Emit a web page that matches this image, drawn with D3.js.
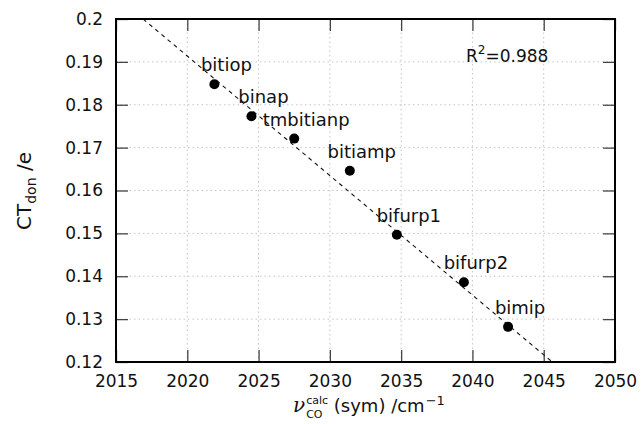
<!DOCTYPE html>
<html><head><meta charset="utf-8">
<script src="https://cdn.jsdelivr.net/npm/d3@7"></script>
<style>body{margin:0;background:#fff}svg{display:block;font-family:"DejaVu Sans",sans-serif}</style>
</head><body>
<svg id="c" width="643" height="424"></svg>
<script>
const names = ["bitiop","binap","tmbitianp","bitiamp","bifurp1","bifurp2","bimip"];
const wavenumbers = [2021.9, 2024.5, 2027.5, 2031.4, 2034.7, 2039.4, 2042.5];
const ctDon = [0.1848, 0.1773, 0.1721, 0.1646, 0.1497, 0.1386, 0.1282];
const fitX = [2016.9, 2045.6];
const fitY = [0.2, 0.12];
const xTicks = [2015,2020,2025,2030,2035,2040,2045,2050];
const yTicks = [0.12,0.13,0.14,0.15,0.16,0.17,0.18,0.19,0.2];
const r2Text = "0.988";

const svg = d3.select("#c");
const L=116, R=615, T=19, B=362;
const x = d3.scaleLinear().domain([2015,2050]).range([L,R]);
const y = d3.scaleLinear().domain([0.12,0.2]).range([B,T]);

// grid
const grid = svg.append("g").attr("stroke","#c4c4c4").attr("stroke-width",1).attr("stroke-dasharray","1.5,3");
grid.selectAll(".gx").data(xTicks.slice(1,-1)).join("line").attr("x1",d=>x(d)).attr("x2",d=>x(d)).attr("y1",T).attr("y2",B);
grid.selectAll(".gy").data(yTicks.slice(1,-1)).join("line").attr("y1",d=>y(d)).attr("y2",d=>y(d)).attr("x1",L).attr("x2",R);

// axes
const fmtY = d3.format(".2~f");
const tk = 12;
const axL = svg.append("g").attr("transform",`translate(${L},0)`).call(d3.axisLeft(y).tickValues(yTicks).tickFormat(fmtY).tickSizeInner(-tk).tickSizeOuter(0).tickPadding(13));
const axB = svg.append("g").attr("transform",`translate(0,${B})`).call(d3.axisBottom(x).tickValues(xTicks).tickFormat(d3.format("d")).tickSizeInner(-tk).tickSizeOuter(0).tickPadding(13));
const axR = svg.append("g").attr("transform",`translate(${R},0)`).call(d3.axisRight(y).tickValues(yTicks).tickFormat("").tickSizeInner(-tk).tickSizeOuter(0));
const axT = svg.append("g").attr("transform",`translate(0,${T})`).call(d3.axisTop(x).tickValues(xTicks).tickFormat("").tickSizeInner(-tk).tickSizeOuter(0));
[axL,axB,axR,axT].forEach(a=>{
  a.select(".domain").remove();
  a.selectAll(".tick line").attr("stroke","#444").attr("stroke-width",1.3);
  a.selectAll("text").attr("font-family","DejaVu Sans").attr("font-size",17).attr("fill","#111");
});

// fit line
svg.append("line").attr("x1",x(fitX[0])).attr("y1",y(fitY[0])).attr("x2",x(fitX[1])).attr("y2",y(fitY[1]))
  .attr("stroke","#111").attr("stroke-width",1.1).attr("stroke-dasharray","4,4");

// frame
svg.append("rect").attr("x",L).attr("y",T).attr("width",R-L).attr("height",B-T).attr("fill","none").attr("stroke","#000").attr("stroke-width",2);

// points
const pts = names.map((n,i)=>({n, x:wavenumbers[i], y:ctDon[i]}));
svg.selectAll("circle.p").data(pts).join("circle").attr("class","p")
  .attr("cx",d=>x(d.x)).attr("cy",d=>y(d.y)).attr("r",5).attr("fill","#000");
svg.selectAll("text.lbl").data(pts).join("text").attr("class","lbl")
  .attr("x",d=>x(d.x)+12).attr("y",d=>y(d.y)-13).attr("text-anchor","middle")
  .attr("font-size",18).attr("fill","#111").text(d=>d.n);

// R^2
const r2 = svg.append("text").attr("x",466).attr("y",62).attr("font-size",17).attr("fill","#111");
r2.append("tspan").text("R");
r2.append("tspan").attr("font-size",12).attr("dy",-8).text("2");
r2.append("tspan").attr("dy",8).text("=" + r2Text);

// y title
const yt = svg.append("text").attr("transform","translate(31,191) rotate(-90)").attr("text-anchor","middle").attr("font-size",20).attr("fill","#111");
yt.append("tspan").text("CT");
yt.append("tspan").attr("font-size",14).attr("dy",5).text("don");
yt.append("tspan").attr("dy",-5).text(" /e");

// x title
const xt = svg.append("g").attr("fill","#111");
const nu = xt.append("text").attr("font-size",20).attr("font-style","italic").attr("font-family","DejaVu Serif").text("ν");
const nuW = nu.node().getComputedTextLength();
const sup = xt.append("text").attr("x",nuW+1).attr("y",-8).attr("font-size",11).text("calc");
const sub = xt.append("text").attr("x",nuW+1).attr("y",6).attr("font-size",11).text("CO");
const off = nuW+1+Math.max(sup.node().getComputedTextLength(), sub.node().getComputedTextLength());
const main = xt.append("text").attr("x",off).attr("font-size",18).text("\u00a0(sym) /cm");
const off2 = off + main.node().getComputedTextLength();
const m1 = xt.append("text").attr("x",off2+1).attr("y",-7).attr("font-size",13).text("\u22121");
xt.attr("transform",`translate(293,412)`);
</script>
</body></html>
